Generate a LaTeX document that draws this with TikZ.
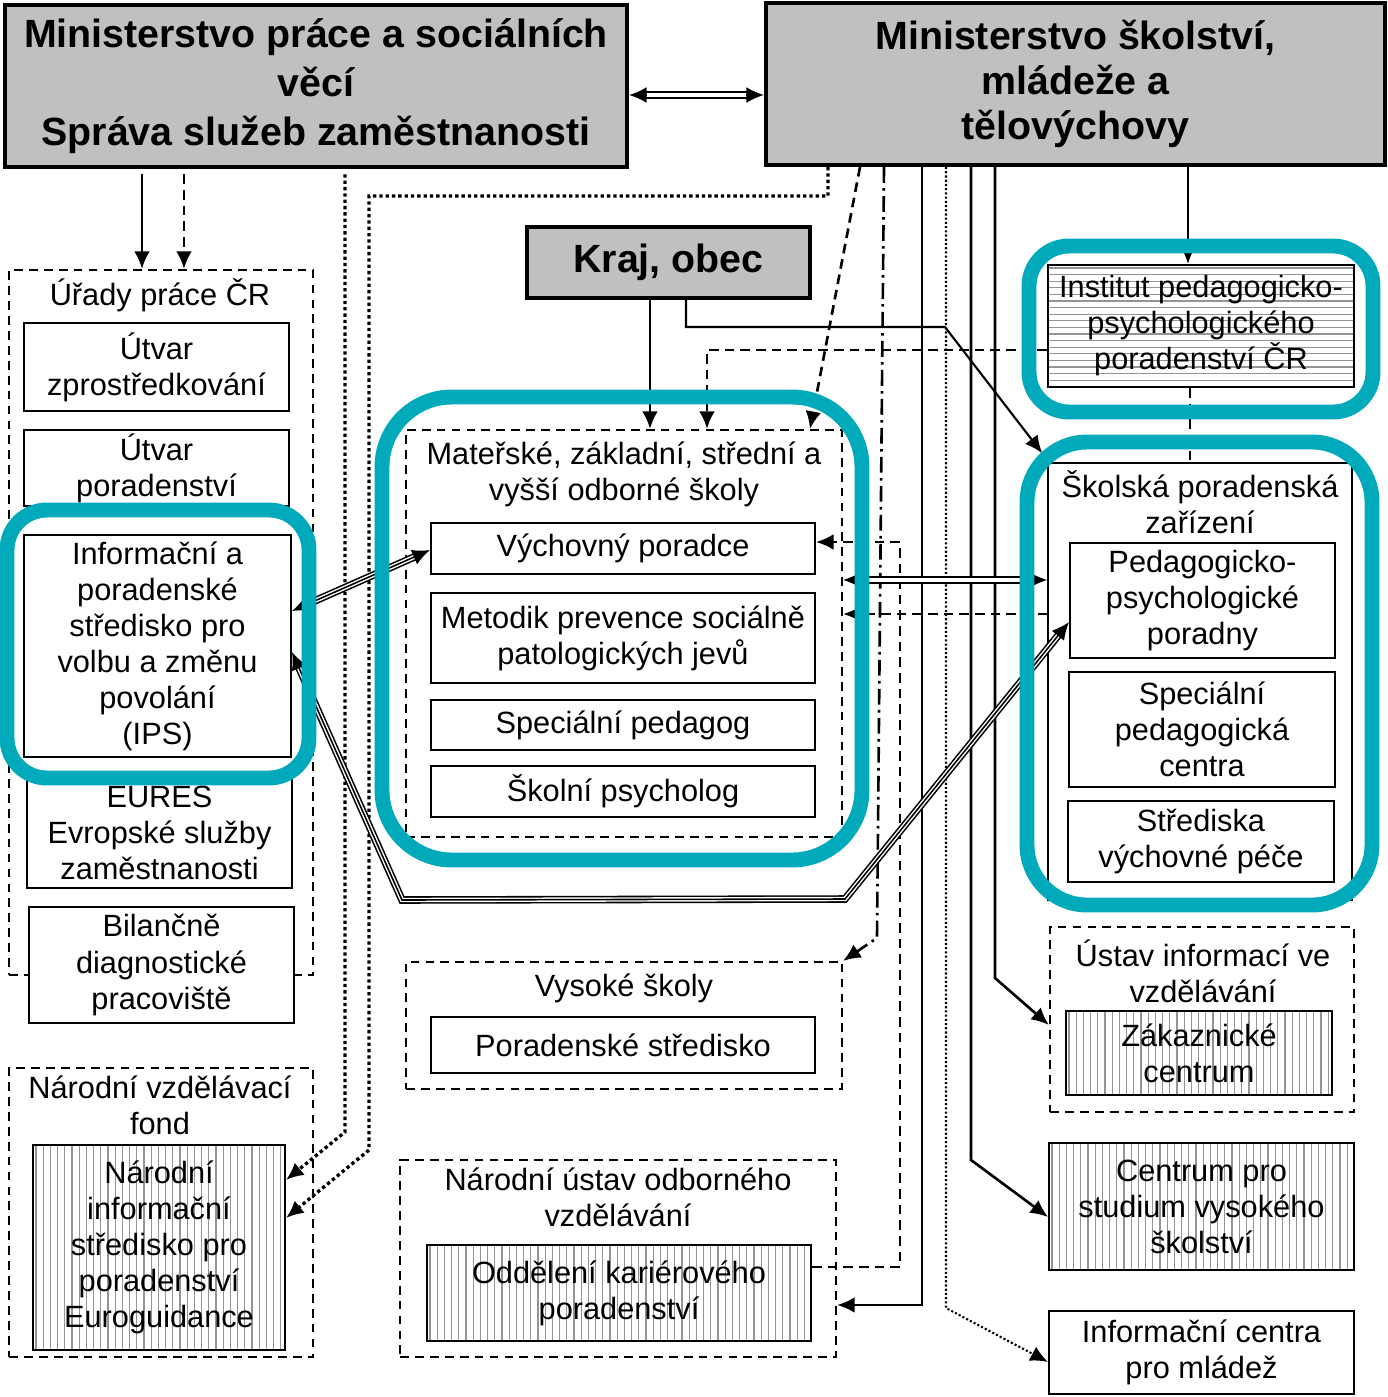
\documentclass[tikz,border=0pt]{standalone}
\usepackage{fontspec}
\setmainfont{Liberation Sans}
\usetikzlibrary{arrows.meta,fit,calc}
\definecolor{hlteal}{RGB}{0,170,186}
\definecolor{boxgray}{RGB}{192,192,192}
\newcommand\dbltip[2]{%
  \draw[line width=1pt,double distance=2.4pt,shorten <=8pt,shorten >=8pt] (#1) -- (#2);
  \draw[line width=1pt,-{Latex[length=10pt,width=9pt]}] ($(#2)!10pt!(#1)$) -- (#2);
  \draw[line width=1pt,-{Latex[length=10pt,width=9pt]}] ($(#1)!10pt!(#2)$) -- (#1);}
\newcommand\vhatchat[4]{%
  \begin{scope}\clip (#1,#2) rectangle (#3,#4);
  \foreach \k in {0,...,60} \draw[hatchline] ({#1+3+\k*7.2},#2) -- ({#1+3+\k*7.2},#4);
  \end{scope}}
\newcommand\hhatchat[4]{%
  \begin{scope}\clip (#1,#2) rectangle (#3,#4);
  \foreach \k in {0,...,25} \draw[hatchline] (#1,{#2+3+\k*6.6}) -- (#3,{#2+3+\k*6.6});
  \end{scope}}
\begin{document}
\begin{tikzpicture}[x=0.02cm,y=-0.02cm,
  every node/.style={align=center,inner sep=0pt,font=\fontsize{17.5}{20.5}\selectfont},
  rect/.style n args={4}{minimum width={(#3-#1)*0.02cm},minimum height={(#4-#2)*0.02cm},at={({(#1+#3)/2},{(#2+#4)/2})}},
  sbox/.style={draw,line width=1.1pt,fill=white},
  nbox/.style={draw,line width=1.1pt},
  dbox/.style={draw,line width=1.25pt,dash pattern=on 5pt off 3.5pt},
  gbox/.style={draw,line width=2.3pt,fill=boxgray},
  big/.style={font=\bfseries\fontsize{22.4}{#1}\selectfont},
  hatchline/.style={line width=0.7pt,black!42},
  hl/.style={draw=hlteal,line width=8.5pt,rounded corners=#1},
  conn/.style={line width=1.5pt},
  atip/.style={-{Latex[length=10pt,width=9pt]}},
  dsh/.style={dash pattern=on 5.5pt off 3.4pt},
  dott/.style={line width=1.9pt,dash pattern=on 1.9pt off 1.7pt},
  fdott/.style={line width=1.2pt,dash pattern=on 1.2pt off 1.2pt},
  dashdot/.style={dash pattern=on 9pt off 3pt on 1.5pt off 3pt},
  tri/.style={line width=0.9pt,double=white,double distance=2.5pt,shorten <=8pt,shorten >=8pt},
  tricore/.style={line width=0.9pt,{Latex[length=10pt,width=9pt]}-{Latex[length=10pt,width=9pt]}},
]
\useasboundingbox (0,0) rectangle (1387,1397);

% top boxes
\node[gbox,big=27.8pt,rect={5}{5}{627}{167}] (mpsv) {Ministerstvo práce a sociálních\\věcí\\Správa služeb zaměstnanosti};
\node[gbox,big=25.8pt,rect={766}{3}{1385}{165}] (msmt) {Ministerstvo školství,\\mládeže a\\tělovýchovy};
\node[gbox,big=27pt,rect={527}{227}{810}{298}] (kraj) {Kraj, obec};

% left column
\node[dbox,rect={9}{270}{313}{975}] (urady) {};
\node (turady) at (160,295) {Úřady práce ČR};
\node[sbox,rect={24}{323}{289}{411}] (utvz) {Útvar\\zprostředkování};
\node[sbox,rect={24}{430}{289}{506}] (utvp) {Útvar\\poradenství};
\node[sbox,rect={24}{535}{291}{757}] (ips) {Informační a\\poradenské\\středisko pro\\volbu a změnu\\povolání\\(IPS)};
\node[sbox,rect={27}{777}{292}{888}] (eures) {EURES\\Evropské služby\\zaměstnanosti};
\node[sbox,rect={29}{907}{294}{1023}] (bdp) {Bilančně\\diagnostické\\pracoviště};

\node[dbox,rect={9}{1068}{313}{1357}] (nvf) {};
\node (tnvf) at (160,1105) {Národní vzdělávací\\fond};
\vhatchat{33}{1145}{285}{1350}
\node[nbox,rect={33}{1145}{285}{1350}] (nis) {Národní\\informační\\středisko pro\\poradenství\\Euroguidance};

% middle column
\node[dbox,rect={406}{430}{842}{837}] (mat) {};
\node (tmat) at (624,474) {Mateřské, základní, střední a\\vyšší odborné školy};
\node[sbox,rect={431}{523}{815}{574}] (vp) {Výchovný poradce};
\node[sbox,rect={431}{593}{815}{683}] (met) {Metodik prevence sociálně\\patologických jevů};
\node[sbox,rect={431}{700}{815}{750}] (sped) {Speciální pedagog};
\node[sbox,rect={431}{766}{815}{817}] (spsy) {Školní psycholog};

\node[dbox,rect={406}{962}{842}{1089}] (vs) {};
\node (tvs) at (624,988) {Vysoké školy};
\node[sbox,rect={431}{1017}{815}{1073}] (ps) {Poradenské středisko};

\node[dbox,rect={400}{1160}{836}{1357}] (nuov) {};
\node (tnuov) at (618,1197) {Národní ústav odborného\\vzdělávání};
\vhatchat{427}{1245}{811}{1341}
\node[nbox,rect={427}{1245}{811}{1341}] (odd) {Oddělení kariérového\\poradenství};

% right column
\hhatchat{1048}{265}{1354}{387}
\node[nbox,rect={1048}{265}{1354}{387}] (inst) {Institut pedagogicko-\\psychologického\\poradenství ČR};
\node[sbox,line width=0.9pt,rect={1048}{463}{1352}{900}] (skol) {};
\node (tskol) at (1200,502) {Školská poradenská\\zařízení};
\node[sbox,rect={1070}{543}{1335}{658}] (ppp) {Pedagogicko-\\psychologické\\poradny};
\node[sbox,rect={1069}{672}{1335}{787}] (spc) {Speciální\\pedagogická\\centra};
\node[sbox,rect={1068}{801}{1334}{882}] (svp) {Střediska\\výchovné péče};
\node[dbox,rect={1050}{927}{1354}{1112}] (uiv) {};
\node (tuiv) at (1203,971) {Ústav informací ve\\vzdělávání};
\vhatchat{1066}{1011}{1332}{1095}
\node[nbox,rect={1066}{1011}{1332}{1095}] (zc) {Zákaznické\\centrum};
\vhatchat{1049}{1143}{1354}{1270}
\node[nbox,rect={1049}{1143}{1354}{1270}] (csvs) {Centrum pro\\studium vysokého\\školství};
\node[sbox,rect={1049}{1311}{1354}{1394}] (icm) {Informační centra\\pro mládež};

% helper coordinates
\coordinate (x142) at (142,0);
\coordinate (x184) at (184,0);
\coordinate (y95) at (0,95);
\coordinate (x650) at (650,0);
\coordinate (kb1) at (686,327);
\coordinate (kb2) at (945,327);
\coordinate (ic1) at (707,350);
\coordinate (x860) at (860,0);
\coordinate (x810) at (810,0);
\coordinate (dd1) at (884,0);
\coordinate (dd2) at (877,938);
\coordinate (x922) at (922,0);
\coordinate (y1305) at (0,1305);
\coordinate (x946) at (946,0);
\coordinate (g2) at (946,1308);
\coordinate (y1362) at (0,1362);
\coordinate (x971) at (971,0);
\coordinate (h2) at (971,1160);
\coordinate (y1217) at (0,1217);
\coordinate (x995) at (995,0);
\coordinate (i2) at (995,978);
\coordinate (y1025) at (0,1025);
\coordinate (x1188) at (1188,0);
\coordinate (x1190) at (1190,0);
\coordinate (x345) at (345,0);
\coordinate (l2) at (345,1132);
\coordinate (y1180) at (0,1180);
\coordinate (x828) at (828,0);
\coordinate (m2) at (369,196);
\coordinate (m3) at (369,1150);
\coordinate (y1218) at (0,1218);
\coordinate (n1) at (900,1267);
\coordinate (n2) at (900,542);
\coordinate (y614) at (0,614);
\coordinate (y580) at (0,580);
\coordinate (y611) at (0,611);
\coordinate (y550) at (0,550);
\coordinate (y652) at (0,652);
\coordinate (r2) at (402,900);
\coordinate (r3) at (845,899);
\coordinate (y622) at (0,622);

% connectors
\draw[conn,atip,shorten <=3pt] (mpsv.south -| x142) -- (urady.north -| x142);
\draw[conn,dsh,atip,shorten <=3pt] (mpsv.south -| x184) -- (urady.north -| x184);
\draw[conn,atip] (kraj.south -| x650) -- (mat.north -| x650);
\draw[line width=1.2pt,atip] (kraj.south -| kb1) -- (kb1) -- (kb2) -- ($(skol.north west)+(-5,-9)$);
\draw[conn,dsh,atip] (inst.west |- ic1) -- (ic1) -- (mat.north -| ic1);
\draw[conn,dsh,atip] (msmt.south -| x860) -- (mat.north -| x810);
\draw[conn,dashdot,atip] (msmt.south -| dd1) -- (dd2) -- (vs.north east);
\draw[conn,atip] (msmt.south -| x922) -- (x922 |- y1305) -- (nuov.east |- y1305);
\draw[fdott,atip] (msmt.south -| x946) -- (g2) -- (icm.west |- y1362);
\draw[conn,atip] (msmt.south -| x971) -- (h2) -- (csvs.west |- y1217);
\draw[conn,atip] (msmt.south -| x995) -- (i2) -- (uiv.west |- y1025);
\draw[conn,atip] (msmt.south -| x1188) -- (inst.north -| x1188);
\draw[conn,dsh] (inst.south -| x1190) -- (skol.north -| x1190);
\draw[dott,atip,shorten <=3pt] (mpsv.south -| x345) -- (l2) -- (nis.east |- y1180);
\draw[dott,atip] (msmt.south -| x828) |- (m2) -- (m3) -- (nis.east |- y1218);
\draw[conn,dsh,atip] (odd.east |- n1) -- (n1) -- (n2) -- (vp.east |- n2);
\draw[conn,dsh,atip] (skol.west |- y614) -- (mat.east |- y614);

\coordinate (dm1) at (mpsv.east |- y95);
\coordinate (dm2) at (msmt.west |- y95);
\dbltip{dm1}{dm2}
\coordinate (dp1) at (mat.east |- y580);
\coordinate (dp2) at (skol.west |- y580);
\dbltip{dp1}{dp2}

\coordinate (q1) at (ips.east |- y611);
\coordinate (q2) at (vp.west |- y550);
\draw[tri] (q1) -- (q2);
\draw[tricore] (q1) -- (q2);
\coordinate (r1) at (ips.east |- y652);
\coordinate (r4) at (ppp.west |- y622);
\draw[tri] (r1) -- (r2) -- (r3) -- (r4);
\draw[tricore] (r1) -- (r2) -- (r3) -- (r4);

% teal highlights
\node[hl=0.8cm,fit={(7,510)(309,778)}] (hlips) {};
\node[hl=1.4cm,fit={(382,397)(862,860)}] (hlmat) {};
\node[hl=0.8cm,fit={(1029,246)(1373,412)}] (hlinst) {};
\node[hl=1.2cm,fit={(1027,442)(1372,905)}] (hlskol) {};
\end{tikzpicture}
\end{document}
